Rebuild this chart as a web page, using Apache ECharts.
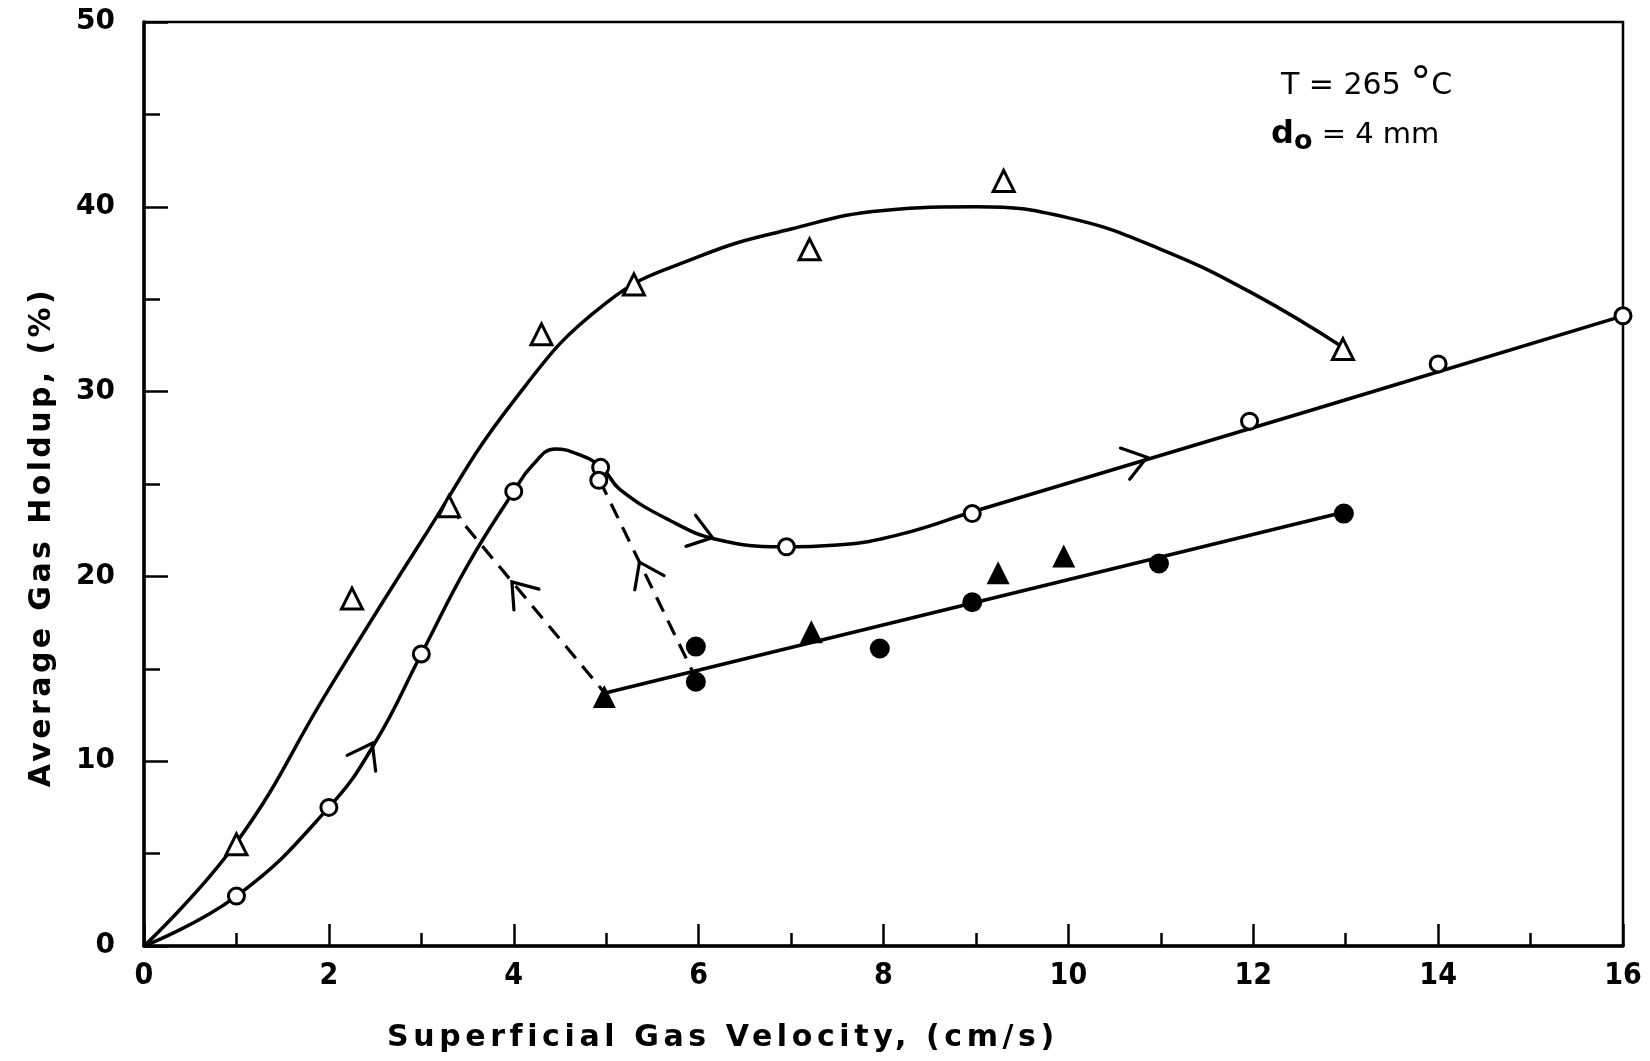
<!DOCTYPE html>
<html>
<head>
<meta charset="utf-8">
<title>Average Gas Holdup vs Superficial Gas Velocity</title>
<script src="https://cdn.jsdelivr.net/npm/echarts@6/dist/echarts.min.js"></script>
<style>
  html, body { margin: 0; padding: 0; background: #fff; }
  #wrap { position: relative; width: 1650px; height: 1061px; overflow: hidden; }
  #chart { position: absolute; left: 0; top: 0; width: 1650px; height: 1061px; }
  .axis-title { position: absolute; font-family: 'DejaVu Sans'; font-weight: bold; color: #000; white-space: nowrap; }
  #xTitle { left: 387px; top: 1016px; font-size: 30px; line-height: 40px; letter-spacing: 4.6px; }
  #yTitle { left: -260px; top: 517px; width: 600px; height: 40px; text-align: center;
            font-size: 30px; line-height: 40px; letter-spacing: 3.4px; transform: rotate(-90deg); }
</style>
</head>
<body>
<div id="wrap">
  <div id="chart"></div>
  <div id="xTitle" class="axis-title">Superficial Gas Velocity, (cm/s)</div>
  <div id="yTitle" class="axis-title">Average Gas Holdup, (%)</div>
</div>
<script>
// 空心三角形
const triX = [1, 2.25, 3.3, 4.3, 5.3, 7.2, 9.3, 12.97]
const triY = [5.5, 18.8, 23.8, 33.1, 35.8, 37.7, 41.4, 32.3]
// 空心圆
const circX = [1, 2, 3, 4, 4.94, 4.92, 6.95, 8.96, 11.96, 14, 16]
const circY = [2.7, 7.5, 15.8, 24.6, 25.9, 25.2, 21.6, 23.4, 28.4, 31.5, 34.1]
// 实心圆
const dotX = [5.97, 5.97, 7.96, 8.96, 10.98, 12.98]
const dotY = [16.2, 14.3, 16.1, 18.6, 20.7, 23.4]
// 实心三角形
const solidTriX = [4.98, 7.22, 9.24, 9.95]
const solidTriY = [13.5, 17.0, 20.2, 21.1]

// 曲线
const upperCurveX = [0, 1, 2, 3, 4, 5, 6, 7, 8, 9, 10, 11, 12, 13]
const upperCurveY = [0, 5.6, 13.9, 21.9, 29.5, 34.8, 37.3, 38.8, 39.8, 40.0, 39.4, 37.7, 35.3, 32.3]
const midCurveX = [0, 1, 2, 2.5, 3, 3.5, 4, 4.2, 4.45, 4.7, 4.95, 5.15, 5.7, 6.2, 6.9, 7.5, 8.2, 9, 12.5, 16]
const midCurveY = [0, 2.7, 7.5, 11, 15.8, 20.6, 24.6, 26.0, 26.9, 26.6, 25.9, 24.7, 23.0, 22.0, 21.6, 21.7, 22.3, 23.55, 28.8, 34.1]
const lowLineX = [5, 13]
const lowLineY = [13.7, 23.5]
const dash1X = [3.3, 5]
const dash1Y = [23.8, 13.6]
const dash2X = [4.93, 5.93]
const dash2Y = [25.2, 14.9]

// 箭头: 位置 + 指向
const arrowX = [2.47, 6.15, 10.85, 3.98, 5.36]
const arrowY = [10.97, 22.1, 26.45, 19.7, 20.77]
const arrowToX = [3, 6.6, 16, 3.3, 4.93]
const arrowToY = [15.8, 21.4, 34.1, 23.8, 25.2]

// 刻度
const xTicks = [0, 2, 4, 6, 8, 10, 12, 14, 16]
const yTicks = [0, 10, 20, 30, 40, 50]

const zip = (xs, ys) => xs.map((x, i) => [x, ys[i]])

const myChart = echarts.init(document.getElementById('chart'))

const openStyle = { color: '#fff', borderColor: '#000', borderWidth: 3, opacity: 1 }
const solidStyle = { color: '#000', opacity: 1 }
const lineBase = { type: 'line', symbol: 'none', silent: true, z: 2 }
const LW = 3.5

const options = {
  backgroundColor: '#fff',
  animation: false,
  grid: {
    left: 144,
    right: 27,
    top: 22,
    bottom: 115,
    show: true,
    borderColor: '#000',
    borderWidth: 2.5,
    backgroundColor: 'transparent',
  },
  xAxis: {
    type: 'value',
    min: xTicks[0],
    max: xTicks[xTicks.length - 1],
    interval: 2,
    axisLine: { lineStyle: { color: '#000', width: 3.5 } },
    axisTick: { inside: true, length: 22, lineStyle: { color: '#000', width: 2.5 } },
    minorTick: { show: true, splitNumber: 2, length: 13, lineStyle: { color: '#000', width: 2.5 } },
    splitLine: { show: false },
    axisLabel: {
      color: '#000',
      fontFamily: 'DejaVu Sans Condensed',
      fontWeight: 'bold',
      fontSize: 30,
      margin: 15,
    },
  },
  yAxis: {
    type: 'value',
    min: yTicks[0],
    max: yTicks[yTicks.length - 1],
    interval: 10,
    axisLine: { lineStyle: { color: '#000', width: 3.5 } },
    axisTick: { inside: true, length: 24, lineStyle: { color: '#000', width: 2.5 } },
    minorTick: { show: true, splitNumber: 2, length: 16, lineStyle: { color: '#000', width: 2.5 } },
    splitLine: { show: false },
    axisLabel: {
      color: '#000',
      fontFamily: 'DejaVu Sans',
      fontWeight: 'bold',
      fontSize: 28,
      margin: 29,
    },
  },
  graphic: [
    {
      type: 'text',
      left: 1281,
      top: 65,
      style: {
        text: '{a|T = 265 }{deg|°}{a|C}',
        rich: {
          a: { fontFamily: 'DejaVu Sans', fontSize: 30, lineHeight: 44, fill: '#000' },
          deg: { fontFamily: 'DejaVu Sans', fontSize: 42, lineHeight: 44, fill: '#000' },
        },
      },
    },
    {
      type: 'text',
      left: 1271,
      top: 119,
      style: {
        text: '{d|d}{o|o}{t| = 4 mm}',
        rich: {
          d: { fontFamily: 'DejaVu Sans', fontWeight: 'bold', fontSize: 32, lineHeight: 40, fill: '#000' },
          o: { fontFamily: 'DejaVu Sans', fontWeight: 'bold', fontSize: 27, lineHeight: 24, verticalAlign: 'bottom', fill: '#000' },
          t: { fontFamily: 'DejaVu Sans', fontSize: 29, lineHeight: 40, fill: '#000' },
        },
      },
    },
  ],
  series: [
    { ...lineBase, data: zip(upperCurveX, upperCurveY), smooth: 0.45, lineStyle: { color: '#000', width: LW } },
    { ...lineBase, data: zip(midCurveX, midCurveY), smooth: 0.45, lineStyle: { color: '#000', width: LW } },
    { ...lineBase, data: zip(lowLineX, lowLineY), lineStyle: { color: '#000', width: LW } },
    { ...lineBase, data: zip(dash1X, dash1Y), lineStyle: { color: '#000', width: 3.2, type: [16, 10] } },
    { ...lineBase, data: zip(dash2X, dash2Y), lineStyle: { color: '#000', width: 3.2, type: [16, 10] } },
    {
      type: 'custom',
      coordinateSystem: 'cartesian2d',
      silent: true,
      z: 3,
      encode: { x: [0, 2], y: [1, 3] },
      data: arrowX.map((x, i) => [x, arrowY[i], arrowToX[i], arrowToY[i]]),
      renderItem: function (params, api) {
        const p = api.coord([api.value(0), api.value(1)])
        const q = api.coord([api.value(2), api.value(3)])
        const ang = Math.atan2(q[1] - p[1], q[0] - p[0])
        const len = 28
        const spread = 0.62
        const a1 = [p[0] - len * Math.cos(ang - spread), p[1] - len * Math.sin(ang - spread)]
        const a2 = [p[0] - len * Math.cos(ang + spread), p[1] - len * Math.sin(ang + spread)]
        return {
          type: 'polyline',
          shape: { points: [a1, p, a2] },
          style: { stroke: '#000', lineWidth: 3.2, fill: null, lineJoin: 'miter', lineCap: 'round' },
        }
      },
    },
    { type: 'scatter', data: zip(triX, triY), symbol: 'triangle', symbolSize: 21, itemStyle: openStyle, z: 5, clip: false },
    { type: 'scatter', data: zip(circX, circY), symbol: 'circle', symbolSize: 16, itemStyle: openStyle, z: 5, clip: false },
    { type: 'scatter', data: zip(dotX, dotY), symbol: 'circle', symbolSize: 20, itemStyle: solidStyle, z: 5 },
    { type: 'scatter', data: zip(solidTriX, solidTriY), symbol: 'triangle', symbolSize: 23, itemStyle: solidStyle, z: 5 },
  ],
}
myChart.setOption(options)
</script>
</body>
</html>
